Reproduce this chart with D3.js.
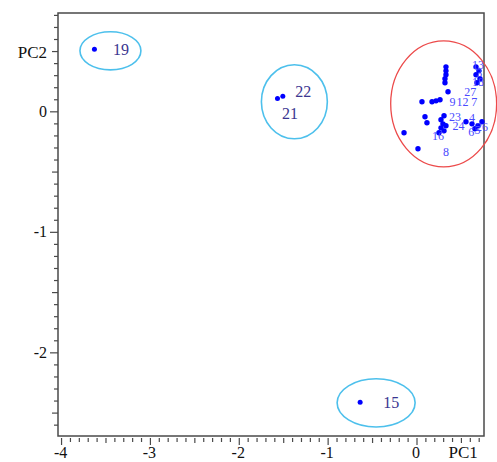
<!DOCTYPE html>
<html>
<head>
<meta charset="utf-8">
<script src="https://cdn.jsdelivr.net/npm/d3@7"></script>
<style>
  html, body { margin: 0; padding: 0; background: #fff; }
  svg { display: block; }
</style>
</head>
<body>
<svg id="chart" width="497" height="462"></svg>
<script>
// PCA scores: samples far from the main group
const outlierPC1 = [-3.63, -1.51, -1.57, -0.64];
const outlierPC2 = [0.52, 0.13, 0.11, -2.41];
const outlierLabelText = ["19", "22", "21", "15"];
const outlierLabelPC1 = [-3.33, -1.28, -1.43, -0.29];
const outlierLabelPC2 = [0.52, 0.17, -0.01, -2.41];

// PCA scores: the main group
const clusterPC1 = [0.326, 0.326, 0.326, 0.315, 0.315, 0.349, 0.056, 0.169, 0.214, 0.259,
  -0.146, 0.011, 0.090, 0.112, 0.270, 0.292, 0.270, 0.304, 0.247, 0.326, 0.304,
  0.664, 0.697, 0.664, 0.709, 0.675, 0.551, 0.619, 0.686, 0.731, 0.652];
const clusterPC2 = [0.373, 0.340, 0.307, 0.274, 0.241, 0.166, 0.083, 0.083, 0.091, 0.100,
  -0.174, -0.307, -0.041, -0.091, -0.066, -0.100, -0.133, -0.158, -0.174, -0.116, -0.033,
  0.373, 0.340, 0.307, 0.274, 0.241, -0.083, -0.100, -0.116, -0.083, -0.141];
const clusterLabelText = ["9", "12", "27", "7", "23", "24", "4", "6", "5", "26", "16", "8", "13", "3", "18"];
const clusterLabelPC1 = [0.400, 0.512, 0.600, 0.645, 0.427, 0.468, 0.619, 0.610, 0.680, 0.731, 0.236, 0.326, 0.686, 0.700, 0.686];
const clusterLabelPC2 = [0.083, 0.083, 0.170, 0.083, -0.041, -0.120, -0.050, -0.165, -0.150, -0.124, -0.199, -0.332, 0.390, 0.320, 0.250];

// Group outlines (centre and semi-axes in PC units)
const groupCX = [-3.45, -1.38, -0.46, 0.30];
const groupCY = [0.506, 0.083, -2.415, 0.066];
const groupRX = [0.343, 0.371, 0.439, 0.596];
const groupRY = [0.158, 0.307, 0.200, 0.523];
const groupKind = ["outlier", "outlier", "outlier", "main"];

// Axis ticks
const xTickValues = [-4, -3, -2, -1, 0];
const yTickValues = [-2, -1, 0];
const xAxisName = "PC1";
const yAxisName = "PC2";

const svg = d3.select("#chart");
const plotLeft = 58, plotRight = 484, plotTop = 13, plotBottom = 436;

const x = d3.scaleLinear().domain([-4.04, 0.754]).range([plotLeft, plotRight]);
const y = d3.scaleLinear().domain([-2.69, 0.82]).range([plotBottom, plotTop]);

const axisColor = "#4a4a4a";
const serif = "'Liberation Serif', 'Times New Roman', serif";

// Frame
svg.append("rect")
  .attr("x", plotLeft).attr("y", plotTop)
  .attr("width", plotRight - plotLeft).attr("height", plotBottom - plotTop)
  .attr("fill", "none").attr("stroke", axisColor).attr("stroke-width", 1.5);

// Tick marks every 0.1, longer at halves and whole numbers
function tickLen(v, minor, half, major) {
  const r = Math.round(v * 10);
  if (r % 10 === 0) return major;
  if (r % 5 === 0) return half;
  return minor;
}
const xMinor = d3.range(-40, 8).map(i => i / 10);
const yMinor = d3.range(-26, 9).map(i => i / 10);

const tickG = svg.append("g").attr("stroke", axisColor).attr("stroke-width", 1.2);
tickG.selectAll("line.xt").data(xMinor).join("line")
  .attr("class", "xt")
  .attr("x1", d => x(d)).attr("x2", d => x(d))
  .attr("y1", plotBottom + 2).attr("y2", d => plotBottom + 2 + tickLen(d, 4, 5, 7));
tickG.selectAll("line.yt").data(yMinor).join("line")
  .attr("class", "yt")
  .attr("y1", d => y(d)).attr("y2", d => y(d))
  .attr("x1", plotLeft).attr("x2", d => plotLeft - tickLen(d, 4, 6, 8));

// Tick labels
svg.append("g").selectAll("text").data(xTickValues).join("text")
  .attr("x", d => x(d) - 1).attr("y", plotBottom + 22)
  .attr("text-anchor", "middle")
  .attr("font-family", serif).attr("font-size", 16).attr("fill", "#111")
  .text(d => String(d));
svg.append("text")
  .attr("x", x(0.52)).attr("y", plotBottom + 22)
  .attr("text-anchor", "middle")
  .attr("font-family", serif).attr("font-size", 17).attr("fill", "#111")
  .text(xAxisName);

svg.append("g").selectAll("text").data(yTickValues).join("text")
  .attr("x", plotLeft - 11).attr("y", d => y(d) + 5)
  .attr("text-anchor", "end")
  .attr("font-family", serif).attr("font-size", 16).attr("fill", "#111")
  .text(d => String(d));
svg.append("text")
  .attr("x", plotLeft - 11).attr("y", y(0.5) + 6)
  .attr("text-anchor", "end")
  .attr("font-family", serif).attr("font-size", 17).attr("fill", "#111")
  .text(yAxisName);

// Points
const pts = svg.append("g").attr("fill", "#0000ff");
pts.selectAll("circle.o").data(outlierPC1).join("circle")
  .attr("class", "o")
  .attr("cx", d => x(d)).attr("cy", (d, i) => y(outlierPC2[i])).attr("r", 2.5);
pts.selectAll("circle.c").data(clusterPC1).join("circle")
  .attr("class", "c")
  .attr("cx", d => x(d)).attr("cy", (d, i) => y(clusterPC2[i])).attr("r", 2.7);

// Sample labels
svg.append("g").selectAll("text").data(outlierLabelText).join("text")
  .attr("x", (d, i) => x(outlierLabelPC1[i])).attr("y", (d, i) => y(outlierLabelPC2[i]))
  .attr("dy", "0.35em").attr("text-anchor", "middle")
  .attr("font-family", serif).attr("font-size", 16).attr("fill", "#3a3590")
  .text(d => d);
svg.append("g").selectAll("text").data(clusterLabelText).join("text")
  .attr("x", (d, i) => x(clusterLabelPC1[i])).attr("y", (d, i) => y(clusterLabelPC2[i]))
  .attr("dy", "0.35em").attr("text-anchor", "middle")
  .attr("font-family", serif).attr("font-size", 12).attr("fill", "#4a4aff")
  .text(d => d);

// Group outlines
svg.append("g").selectAll("ellipse").data(groupCX).join("ellipse")
  .attr("cx", d => x(d))
  .attr("cy", (d, i) => y(groupCY[i]))
  .attr("rx", (d, i) => x(groupRX[i]) - x(0))
  .attr("ry", (d, i) => y(0) - y(groupRY[i]))
  .attr("fill", "none")
  .attr("stroke", (d, i) => groupKind[i] === "main" ? "#ec4a4a" : "#4dc0ec")
  .attr("stroke-width", (d, i) => groupKind[i] === "main" ? 1.3 : 1.6);
</script>
</body>
</html>
